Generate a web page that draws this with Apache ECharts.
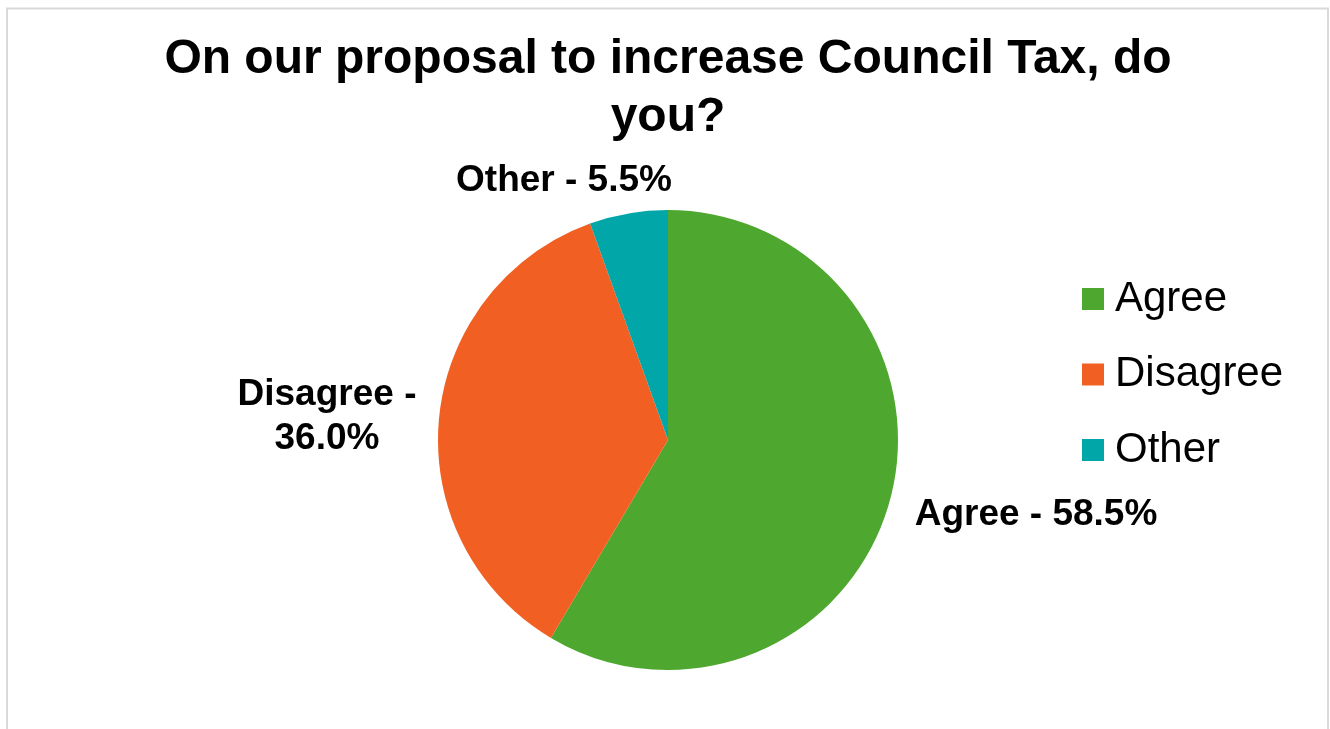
<!DOCTYPE html>
<html>
<head>
<meta charset="utf-8">
<script src="https://cdn.jsdelivr.net/npm/echarts@6/dist/echarts.min.js"></script>
<style>
  html, body { margin: 0; padding: 0; background: #fff; }
  #chart { width: 1330px; height: 729px; }
</style>
</head>
<body>
<div id="chart"></div>
<script>
// Survey responses (percent of respondents)
const categories = ['Agree', 'Disagree', 'Other'];
const shares = [58.5, 36.0, 5.5];
const sliceColors = ['#4EA72E', '#F16022', '#00A6A8'];

const FONT = '"Liberation Sans", Arial, sans-serif';

// Where each slice's caption sits, keyed by category
const labelSpots = {
  Agree:    { x: 1036, y: 515 },
  Disagree: { x: 327,  y: 417 },
  Other:    { x: 564,  y: 181 }
};

const chart = echarts.init(document.getElementById('chart'));

chart.setOption({
  backgroundColor: '#ffffff',
  animation: false,
  title: {
    text: 'On our proposal to increase Council Tax, do\nyou?',
    left: 663,
    top: 26,
    textAlign: 'center',
    textStyle: {
      fontFamily: FONT,
      fontWeight: 'bold',
      fontSize: 48,
      lineHeight: 58,
      color: '#000'
    }
  },
  legend: {
    orient: 'vertical',
    left: 1077,
    top: 273,
    itemWidth: 22,
    itemHeight: 22,
    itemGap: 33.5,
    icon: 'rect',
    data: categories,
    textStyle: {
      fontFamily: FONT,
      fontSize: 42,
      color: '#000',
      padding: [0, 0, 0, 6]
    }
  },
  graphic: [{
    type: 'rect',
    silent: true,
    shape: { x: 7, y: 8.5, width: 1321, height: 760 },
    style: { fill: 'none', stroke: '#d9d9d9', lineWidth: 2 }
  }],
  series: [{
    type: 'pie',
    center: [668, 440],
    radius: 230,
    startAngle: 90,
    clockwise: true,
    silent: true,
    itemStyle: { borderWidth: 0 },
    data: categories.map((name, i) => ({
      name,
      value: shares[i],
      itemStyle: { color: sliceColors[i] }
    })),
    label: {
      show: true,
      position: 'outside',
      fontFamily: FONT,
      fontWeight: 'bold',
      fontSize: 37,
      lineHeight: 44,
      color: '#000',
      align: 'center',
      formatter: p => p.name === 'Disagree'
        ? p.name + ' -\n' + p.value.toFixed(1) + '%'
        : p.name + ' - ' + p.value.toFixed(1) + '%'
    },
    labelLine: { show: false },
    labelLayout: params => {
      const spot = labelSpots[categories[params.dataIndex]];
      return { x: spot.x, y: spot.y, align: 'center', verticalAlign: 'middle' };
    }
  }]
});
</script>
</body>
</html>
